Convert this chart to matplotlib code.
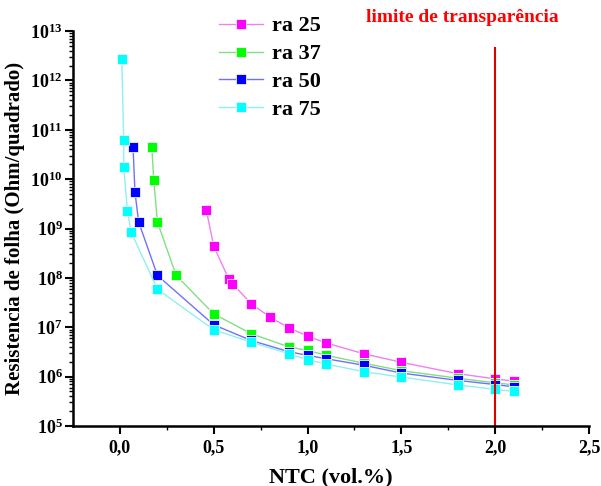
import math
import matplotlib
matplotlib.use("Agg")
import matplotlib.pyplot as plt
from matplotlib.ticker import FixedLocator, FuncFormatter, LogLocator, NullFormatter

plt.rcParams['font.family'] = ['Liberation Serif', 'DejaVu Serif']
plt.rcParams['font.weight'] = 'bold'
plt.rcParams['mathtext.fontset'] = 'custom'
plt.rcParams['mathtext.rm'] = 'Liberation Serif:bold'
plt.rcParams['mathtext.bf'] = 'Liberation Serif:bold'
plt.rcParams['mathtext.it'] = 'Liberation Serif:bold'

# data
x_ra25 = [0.46, 0.50, 0.58, 0.60, 0.70, 0.80, 0.90, 1.00, 1.10, 1.30, 1.50, 1.80, 2.00, 2.10]
y_ra25 = [2.4e9, 4.4e8, 9.5e7, 7.6e7, 3.0e7, 1.6e7, 9.8e6, 6.6e6, 4.8e6, 2.9e6, 1.95e6, 1.15e6, 9.0e5, 8.1e5]

x_ra37 = [0.17, 0.18, 0.20, 0.30, 0.50, 0.70, 0.90, 1.00, 1.10, 1.30, 1.50, 1.80, 2.00, 2.10]
y_ra37 = [4.5e10, 9.8e9, 1.35e9, 1.12e8, 1.86e7, 7.4e6, 4.0e6, 3.4e6, 2.7e6, 1.87e6, 1.32e6, 9.3e5, 7.5e5, 6.8e5]

x_ra50 = [0.07, 0.08, 0.10, 0.20, 0.50, 0.70, 0.90, 1.00, 1.10, 1.30, 1.50, 1.80, 2.00, 2.10]
y_ra50 = [4.5e10, 5.5e9, 1.35e9, 1.12e8, 1.12e7, 5.4e6, 3.2e6, 2.7e6, 2.3e6, 1.7e6, 1.18e6, 8.4e5, 6.9e5, 6.2e5]

x_ra75 = [0.01, 0.02, 0.02, 0.04, 0.06, 0.20, 0.50, 0.70, 0.90, 1.00, 1.10, 1.30, 1.50, 1.80, 2.00, 2.10]
y_ra75 = [2.7e12, 6.2e10, 1.8e10, 2.3e9, 8.4e8, 5.9e7, 8.9e6, 5.0e6, 2.9e6, 2.2e6, 1.8e6, 1.26e6, 9.8e5, 6.8e5, 5.5e5, 5.0e5]

series = [
    ("ra 25", x_ra25, y_ra25, "#ff00ff", "#f080f0"),
    ("ra 37", x_ra37, y_ra37, "#00ff00", "#80e080"),
    ("ra 50", x_ra50, y_ra50, "#0000ff", "#7070ff"),
    ("ra 75", x_ra75, y_ra75, "#00ffff", "#90f0f0"),
]

limit_x = 2.0
limit_top = 4.5e12

fig = plt.figure(figsize=(6.01, 4.86), dpi=100)
ax = fig.add_axes([0.1215, 0.1235, 0.8585, 0.8125])

for name, xs, ys, mcolor, lcolor in series:
    ax.plot(xs, ys, color=lcolor, linewidth=1.0, marker='s', markersize=7.5,
            markerfacecolor=mcolor, markeredgecolor='#f4f4f4', markeredgewidth=0.6,
            label=name)

# transparency limit
ax.plot([limit_x, limit_x], [1e5, limit_top], color='#e00000', linewidth=1.5)
fig.text(0.770, 0.965, "limite de transparência", color='#ff0000',
         fontsize=14, fontweight='bold', ha='center', va='center')

ax.set_yscale('log')
ax.set_xlim(-0.25, 2.5)
ax.set_ylim(1e5, 1e13)

ax.xaxis.set_major_locator(FixedLocator([0, 0.5, 1.0, 1.5, 2.0, 2.5]))
ax.xaxis.set_minor_locator(FixedLocator([0.25, 0.75, 1.25, 1.75, 2.25]))
ax.xaxis.set_major_formatter(FuncFormatter(lambda v, p: f"{v:.1f}".replace('.', ',')))

ax.yaxis.set_major_locator(LogLocator(base=10, numticks=20))
ax.yaxis.set_minor_locator(LogLocator(base=10, subs=range(2, 10), numticks=20))
ax.yaxis.set_minor_formatter(NullFormatter())
ax.yaxis.set_major_formatter(FuncFormatter(lambda v, p: r"$\mathregular{10^{%d}}$" % round(math.log10(v))))

for side in ['top', 'right']:
    ax.spines[side].set_visible(False)
for side in ['left', 'bottom']:
    ax.spines[side].set_linewidth(1.8)

ax.tick_params(which='major', direction='out', length=6, width=1.5, labelsize=13)
ax.tick_params(which='minor', direction='out', length=3, width=1.0)
ax.tick_params(axis='y', which='major', pad=1.5)

ax.set_xlabel("NTC (vol.%)", fontsize=16, fontweight='bold', labelpad=8)
ax.set_ylabel("Resistencia de folha (Ohm/quadrado)", fontsize=15, fontweight='bold', labelpad=4)

ax.legend(loc='upper left', bbox_to_anchor=(0.252, 1.078), frameon=False,
          prop={'family': 'Liberation Serif', 'weight': 'bold', 'size': 16},
          handlelength=2.0, handletextpad=0.4, labelspacing=0.33, borderpad=0.2)

fig.savefig("out.png", dpi=100)
